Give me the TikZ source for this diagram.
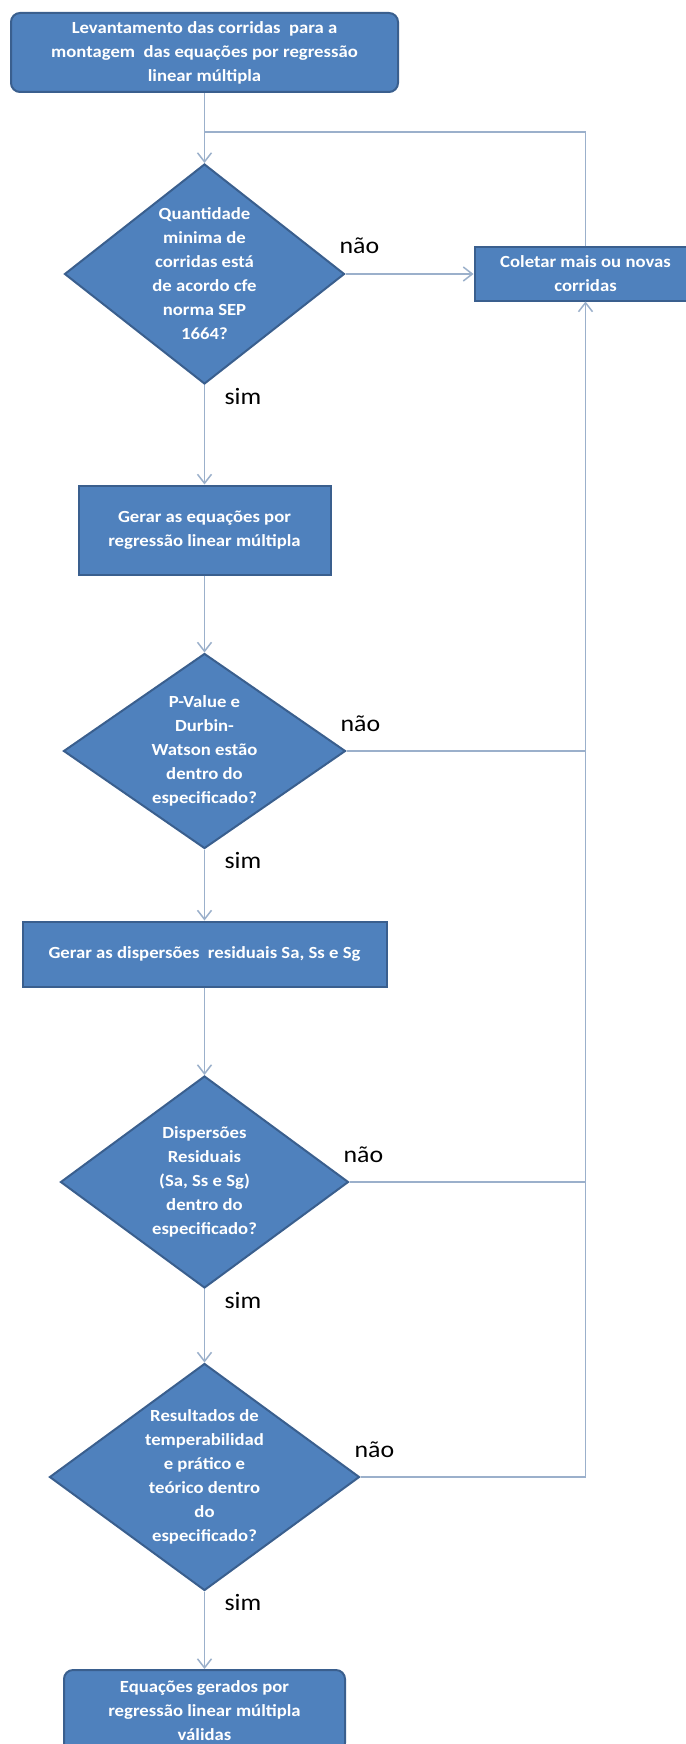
\documentclass[tikz,border=0pt]{standalone}
\usepackage{fontspec}
\setmainfont{Carlito}[FakeStretch=1.1]
\usepackage{tikz}
\usetikzlibrary{arrows.meta,shapes.geometric,positioning}

\definecolor{boxblue}{HTML}{4F81BD}
\definecolor{boxline}{HTML}{3A5F8E}
\definecolor{flowline}{HTML}{9BB0CB}

\begin{document}
\begin{tikzpicture}[->,>={Straight Barb[length=9pt,width=14pt]},x=1pt,y=1pt,
    line width=1.5pt,draw=flowline]
  \tikzstyle{txt}=[text=white,font=\bfseries\fontsize{17}{24}\selectfont,align=center]
  \tikzstyle{process}=[txt,rectangle,draw=boxline,line width=2pt,fill=boxblue,inner sep=0pt]
  \tikzstyle{terminal}=[process,rounded corners=9pt]
  \tikzstyle{decision}=[txt,diamond,draw=boxline,line width=2pt,fill=boxblue,inner sep=-30pt]
  \tikzstyle{nolbl}=[pos=0,anchor=base west,xshift=-10pt,yshift=20pt,text=black,font=\fontsize{23.5}{28}\selectfont]
  \tikzstyle{yeslbl}=[pos=0,anchor=base west,xshift=16pt,yshift=-19pt,text=black,font=\fontsize{23.5}{28}\selectfont]

  \path[use as bounding box,fill=white,draw=none] (0,0) rectangle (685,-1744);

  \node[terminal,minimum width=387pt,minimum height=79pt] (start) at (204.5,-52.5)
    {Levantamento das corridas\ \ para a\\montagem\ \ das equações por regressão\\linear múltipla};
  \node[decision,minimum width=280pt,minimum height=220pt] (Q1) [below of=start,node distance=221.5pt]
    {Quantidade\\minima de\\corridas está\\de acordo cfe\\norma SEP\\1664?};
  \node[process,minimum width=222pt,minimum height=53pt] (coletar) [right of=Q1,node distance=381pt]
    {Coletar mais ou novas\\corridas};
  \node[process,minimum width=252pt,minimum height=89pt] (gerar) [below of=Q1,node distance=256pt]
    {Gerar as equações por\\regressão linear múltipla};
  \node[decision,minimum width=282pt,minimum height=195pt] (Q2) [below of=gerar,node distance=221pt]
    {P-Value e\\Durbin-\\Watson estão\\dentro do\\especificado?};
  \node[process,minimum width=364pt,minimum height=65pt] (disp) [below of=Q2,node distance=203pt]
    {Gerar as dispersões\ \ residuais Sa, Ss e Sg};
  \node[decision,minimum width=288pt,minimum height=212pt] (Q3) [below of=disp,node distance=228pt]
    {Dispersões\\Residuais\\(Sa, Ss e Sg)\\dentro do\\especificado?};
  \node[decision,minimum width=310pt,minimum height=227pt] (Q4) [below of=Q3,node distance=295pt]
    {Resultados de\\temperabilidad\\e prático e\\teórico dentro\\do\\especificado?};
  \node[terminal,minimum width=281pt,minimum height=82pt] (final) [below of=Q4,node distance=234pt]
    {Equações gerados por\\regressão linear múltipla\\válidas};

  \coordinate (join) at (start.center |- 0,-132);

  % main flow
  \path (start) edge (Q1)
        (Q1) edge node[nolbl] (no1) {não} (coletar)
             edge node[yeslbl] (yes1) {sim} (gerar)
        (gerar) edge (Q2)
        (Q2) edge[-] node[nolbl] (no2) {não} (Q2 -| coletar)
             edge node[yeslbl] (yes2) {sim} (disp)
        (disp) edge (Q3)
        (Q3) edge[-] node[nolbl] (no3) {não} (Q3 -| coletar)
             edge node[yeslbl] (yes3) {sim} (Q4)
        (Q4) edge node[yeslbl] (yes4) {sim} (final);

  % back to the start
  \draw[-] (coletar) |- (join);
  \draw (Q4) -| node[nolbl] (no4) {não} (coletar);
\end{tikzpicture}
\end{document}
